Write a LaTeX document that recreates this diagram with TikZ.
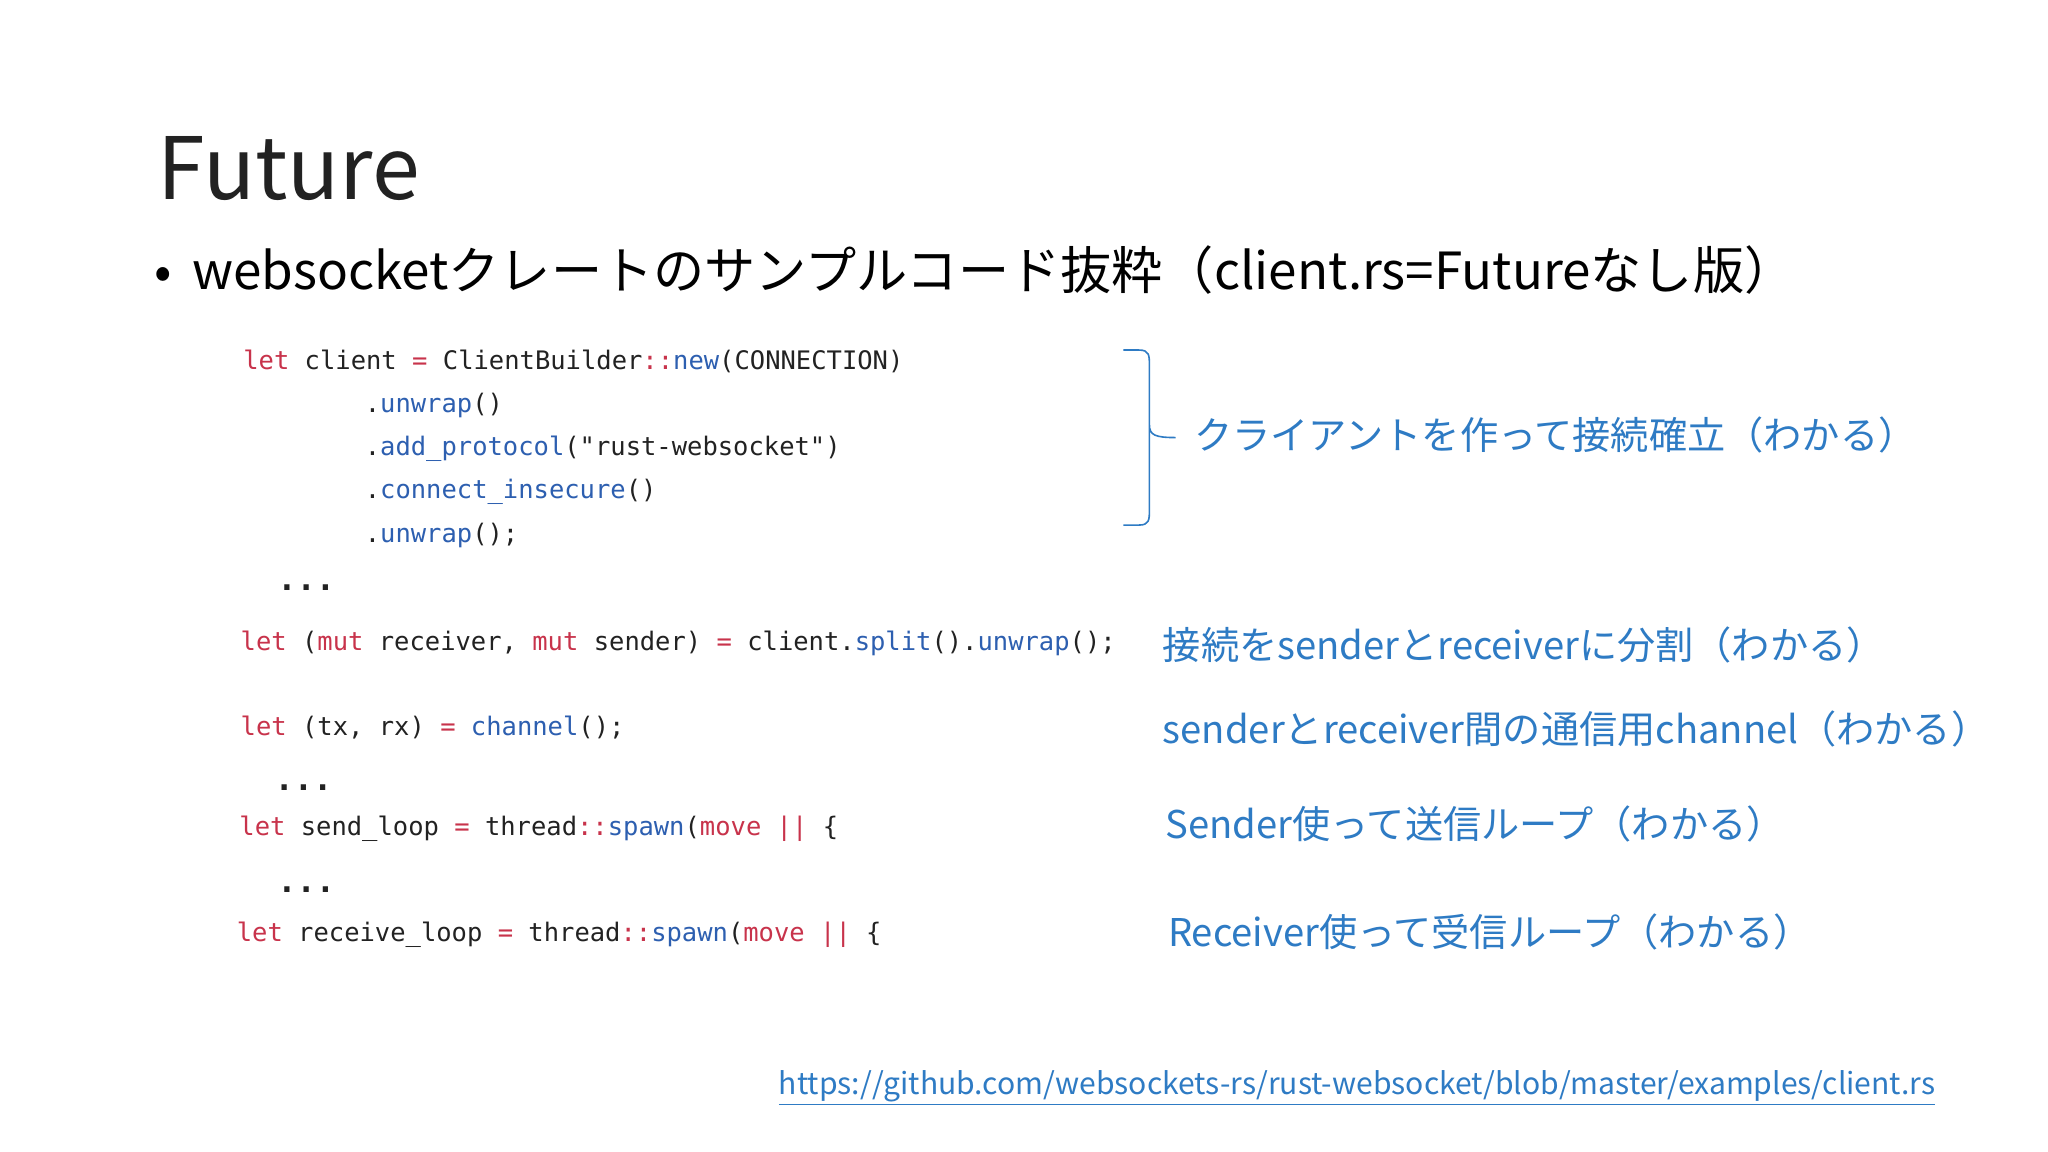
\documentclass[tikz,border=0pt]{standalone}
\usepackage{fontspec}
\setmainfont{Noto Sans CJK JP}
\newfontfamily\cjk{Noto Sans CJK JP}
\setmonofont{DejaVu Sans Mono}
\usetikzlibrary{positioning}
\definecolor{kw}{HTML}{C8334B}
\definecolor{fn}{HTML}{2D5FB0}
\definecolor{note}{HTML}{2E7BC4}
\definecolor{txt}{HTML}{222222}
\newcommand{\K}[1]{\textcolor{kw}{#1}}
\newcommand{\F}[1]{\textcolor{fn}{#1}}
\tikzset{
 codeln/.style={anchor=base west,inner sep=0pt,font=\ttfamily\fontsize{12.75}{14}\selectfont,text=txt},
 noteln/.style={anchor=base west,inner sep=0pt,font=\cjk\fontsize{19.1}{21}\selectfont,text=note},
}
\begin{document}
\begin{tikzpicture}[x=0.6531pt,y=-0.6531pt]
\useasboundingbox[fill=white] (0,0) rectangle (1568,882);
\node[anchor=base west,inner sep=0pt,font=\fontsize{43}{48}\selectfont,text=txt] (title) at (120,153) {Future};
\node[anchor=base west,inner sep=0pt,font=\fontsize{25.6}{28}\selectfont,text=black] (bullet) at (118,222) {•\hspace{0.4em}websocketクレートのサンプルコード抜粋（client.rs=Futureなし版）};
\node[codeln] (c1) at (186,283) {\K{let} client \K{=} ClientBuilder\K{::}\F{new}(CONNECTION)};
\node[codeln] (c2) at (279,316) {.\F{unwrap}()};
\node[codeln] (c3) at (279,349) {.\F{add\_protocol}("rust-websocket")};
\node[codeln] (c4) at (279,382) {.\F{connect\_insecure}()};
\node[codeln] (c5) at (279,415) {.\F{unwrap}();};
\node[codeln,font=\ttfamily\bfseries\fontsize{16}{18}\selectfont] (d1) at (212,452) {...};
\node[codeln] (c6) at (184,498) {\K{let} (\K{mut} receiver, \K{mut} sender) \K{=} client.\F{split}().\F{unwrap}();};
\node[codeln] (c7) at (184,563) {\K{let} (tx, rx) \K{=} \F{channel}();};
\node[codeln,font=\ttfamily\bfseries\fontsize{16}{18}\selectfont] (d2) at (210,605) {...};
\node[codeln] (c8) at (183,640) {\K{let} send\_loop \K{=} thread\K{::}\F{spawn}(\K{move} \K{||} \{};
\node[codeln,font=\ttfamily\bfseries\fontsize{16}{18}\selectfont] (d3) at (212,683) {...};
\node[codeln] (c9) at (181,721) {\K{let} receive\_loop \K{=} thread\K{::}\F{spawn}(\K{move} \K{||} \{};
\coordinate (bt) at (860,268);
\coordinate (bb) at (860,402);
\coordinate (btip) at (900,335);
\draw[note,line width=0.8pt] (bt) -- (872,268) .. controls (880,268) and (880,272) .. (880,280) -- (880,325) .. controls (880,333) and (884,335) .. (btip) (880,325) .. controls (880,333) and (880,335) .. (880,345) -- (880,390) .. controls (880,398) and (880,402) .. (872,402) -- (bb);
\node[noteln] (n1) at (914,344) {クライアントを作って接続確立（わかる）};
\node[noteln] (n2) at (890,505) {接続をsenderとreceiverに分割（わかる）};
\node[noteln] (n3) at (890,569) {senderとreceiver間の通信用channel（わかる）};
\node[noteln] (n4) at (892,642) {Sender使って送信ループ（わかる）};
\node[noteln] (n5) at (894,725) {Receiver使って受信ループ（わかる）};
\node[anchor=base west,inner sep=0pt,font=\fontsize{15.05}{18}\selectfont,text=note] (url) at (596,838) {\underline{https://github.com/websockets-rs/rust-websocket/blob/master/examples/client.rs}};
\end{tikzpicture}
\end{document}
